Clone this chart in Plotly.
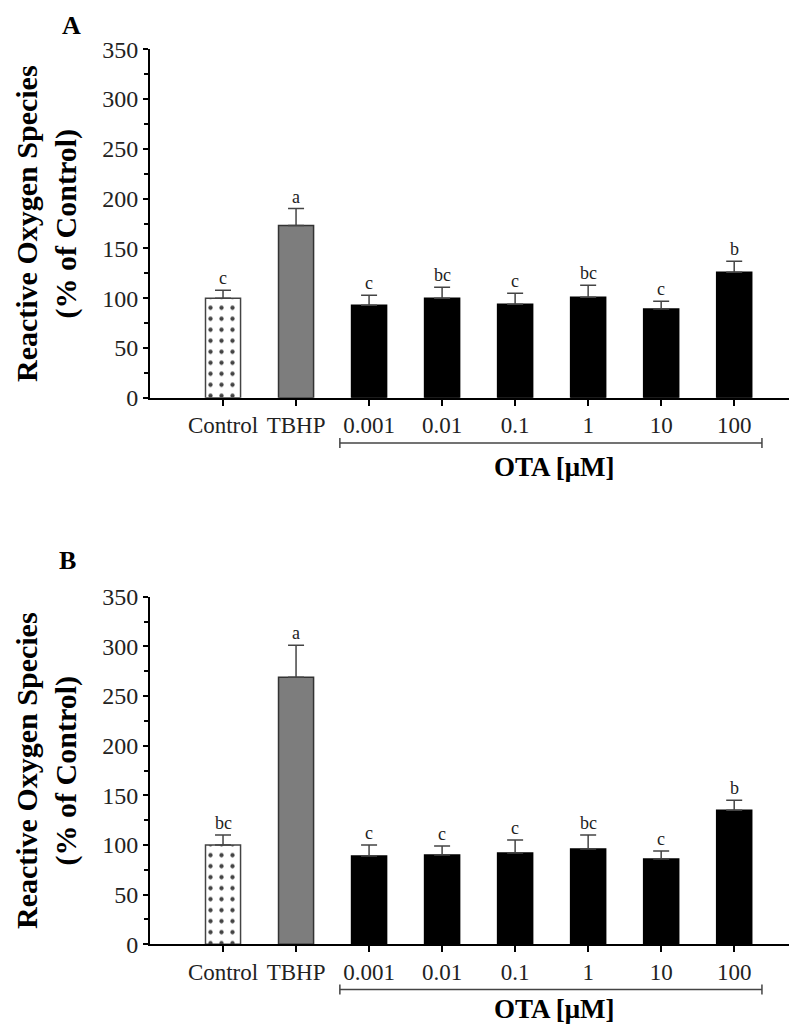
import plotly.graph_objects as go

categories = ["Control", "TBHP", "0.001", "0.01", "0.1", "1", "10", "100"]

a_values = [100, 173, 93, 100, 94, 101, 89, 126]
a_errors = [8, 17, 10, 11, 11, 12, 8, 11]
a_letters = ["c", "a", "c", "bc", "c", "bc", "c", "b"]

b_values = [100, 269, 89, 90, 92, 96, 86, 135]
b_errors = [10, 32, 11, 9, 13, 14, 8, 10]
b_letters = ["bc", "a", "c", "c", "c", "bc", "c", "b"]

y_ticks = [0, 50, 100, 150, 200, 250, 300, 350]
ota_group = ["0.001", "100"]

FONT = "Liberation Serif"
OFF = 8  # page body margin in the browser
W, H = 797 - OFF, 1028 - OFF

fill_colors = ["white", "#7d7d7d"] + ["black"] * 6
line_colors = ["#444444", "#333333"] + ["black"] * 6
patterns = ["."] + [""] * 7

fig = go.Figure()

panels = [
    dict(vals=a_values, errs=a_errors, letters=a_letters, xa="x", ya="y", label="A",
         top=49.3, bottom=397.7, lab_xy=(72, 25), ota_y=-0.198),
    dict(vals=b_values, errs=b_errors, letters=b_letters, xa="x2", ya="y2", label="B",
         top=596.7, bottom=944.3, lab_xy=(67, 560), ota_y=-0.186),
]

x_left_px = 150 - OFF
x_right_px = 797 - OFF
annotations = []
shapes = []
xr = [-1, 7.86]

for i, p in enumerate(panels):
    top = p["top"] - OFF
    bottom = p["bottom"] - OFF
    fig.add_trace(go.Bar(
        x=categories, y=p["vals"], xaxis=p["xa"], yaxis=p["ya"], width=0.48,
        marker=dict(color=fill_colors, line=dict(color=line_colors, width=1.5),
                    pattern=dict(shape=patterns, fgcolor="black", bgcolor="white",
                                 fgopacity=1, size=11, solidity=0.12)),
        error_y=dict(type="data", symmetric=False, array=p["errs"],
                     arrayminus=[0] * len(p["errs"]), color="#444444",
                     thickness=1.5, width=8),
        showlegend=False,
    ))
    for k, (v, e, t) in enumerate(zip(p["vals"], p["errs"], p["letters"])):
        annotations.append(dict(x=k, y=v + e, xref=p["xa"], yref=p["ya"], text=t,
                                showarrow=False, yanchor="bottom", yshift=0,
                                font=dict(family=FONT, size=18, color="#222")))
    # y title
    ydom = [1 - bottom / H, 1 - top / H]
    annotations.append(dict(x=(46.5 - OFF) / W, y=(ydom[0] + ydom[1]) / 2, xref="paper",
                            yref="paper",
                            text="Reactive Oxygen Species<br>(% of Control)", textangle=-90,
                            showarrow=False, xanchor="center", yanchor="middle",
                            font=dict(family=FONT, size=30, color="black", weight="bold")))
    annotations.append(dict(x=(p["lab_xy"][0] - OFF) / W, y=1 - (p["lab_xy"][1] - OFF) / H,
                            xref="paper", yref="paper", text=p["label"], showarrow=False,
                            xanchor="center", yanchor="middle",
                            font=dict(family=FONT, size=26, color="black", weight="bold")))
    # bracket under OTA group
    i0 = categories.index(ota_group[0]) - 0.4
    i1 = categories.index(ota_group[1]) + 0.38
    f0 = (i0 - xr[0]) / (xr[1] - xr[0])
    f1 = (i1 - xr[0]) / (xr[1] - xr[0])
    dref = p["xa"] + " domain"
    yref = p["ya"] + " domain"
    yb = -0.13
    tick = 5 / (bottom - top)
    lc = dict(color="#444444", width=1.5)
    shapes.append(dict(type="line", xref=dref, yref=yref, x0=f0, x1=f1, y0=yb, y1=yb, line=lc))
    shapes.append(dict(type="line", xref=dref, yref=yref, x0=f0, x1=f0, y0=yb - tick, y1=yb + tick, line=lc))
    shapes.append(dict(type="line", xref=dref, yref=yref, x0=f1, x1=f1, y0=yb - tick, y1=yb + tick, line=lc))
    annotations.append(dict(x=(f0 + f1) / 2 + 0.005, y=p["ota_y"], xref=dref, yref=yref,
                            text="OTA [μM]", showarrow=False, xanchor="center", yanchor="middle",
                            font=dict(family=FONT, size=27, color="black", weight="bold")))

axis_common_x = dict(type="category", range=xr, showline=True, linecolor="black", linewidth=2,
                     ticks="outside", ticklen=6, tickwidth=2, tickcolor="black",
                     tickfont=dict(family=FONT, size=23, color="#222"), ticklabelstandoff=0,
                     showgrid=False, zeroline=False, fixedrange=True, automargin=False)
axis_common_y = dict(range=[0, 350], tickvals=y_ticks, showline=True, linecolor="black",
                     linewidth=2, ticks="outside", ticklen=5, tickwidth=2, tickcolor="black",
                     tickfont=dict(family=FONT, size=24, color="#222"),
                     minor=dict(ticks="outside", dtick=25, tick0=0, ticklen=4, tickwidth=2,
                                tickcolor="black", showgrid=False),
                     showgrid=False, zeroline=False, automargin=False)

xdom = [x_left_px / W, x_right_px / W]
pa, pb = panels
fig.update_layout(
    width=W, height=H, margin=dict(l=0, r=0, t=0, b=0, autoexpand=False),
    paper_bgcolor="white", plot_bgcolor="white",
    bargap=0.5,
    xaxis=dict(domain=xdom, anchor="y", **axis_common_x),
    yaxis=dict(domain=[1 - (pa["bottom"] - OFF) / H, 1 - (pa["top"] - OFF) / H], anchor="x",
               **axis_common_y),
    xaxis2=dict(domain=xdom, anchor="y2", **axis_common_x),
    yaxis2=dict(domain=[1 - (pb["bottom"] - OFF) / H, 1 - (pb["top"] - OFF) / H], anchor="x2",
                **axis_common_y),
    annotations=annotations, shapes=shapes,
)

fig.write_html("out.html")
